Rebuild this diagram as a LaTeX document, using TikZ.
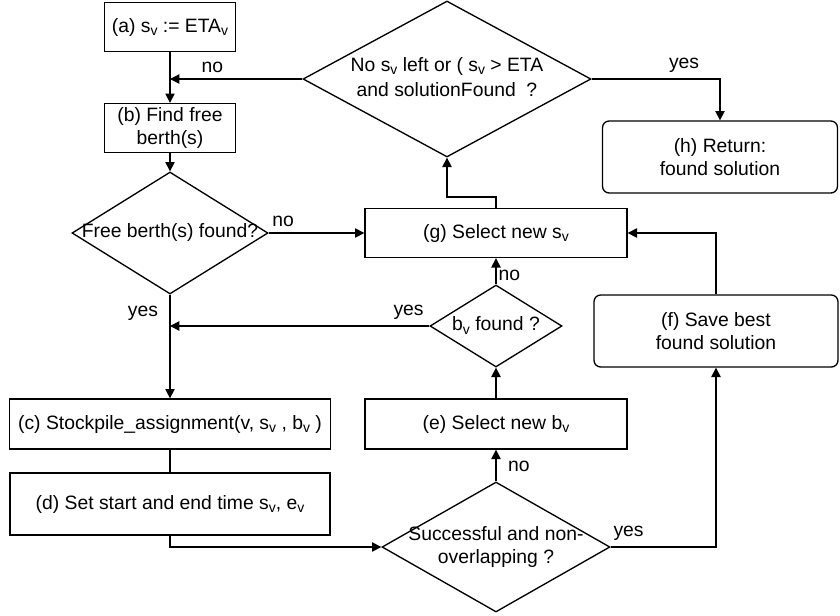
\documentclass[tikz,border=0pt]{standalone}
\usepackage{fontspec}
\setmainfont{Liberation Sans}
\usetikzlibrary{arrows.meta,shapes.geometric}
\newcommand{\dtext}[1]{\makebox[0pt]{\begin{tabular}{@{}c@{}}#1\end{tabular}}}
\newcommand{\vsub}{\raisebox{-2.5pt}{\fontsize{10.5}{10.5}\selectfont v}}

\begin{document}
\begin{tikzpicture}[x=0.75pt, y=-0.75pt, line width=1pt,
	every node/.style={font=\fontsize{14.5}{17.5}\selectfont},
	>={Triangle[length=7pt, width=7pt]},
	box/.style={draw, minimum width=196.5pt, minimum height=36.75pt, align=center, inner sep=2pt},
	endbox/.style={box, rounded corners=5pt},
	dec/.style={draw, diamond, inner sep=0pt},
	lbl/.style={inner sep=1.5pt}]
	\useasboundingbox (0,0) rectangle (840,615);
	% left column
	\node[box, minimum width=98.25pt] (a) at (170,27) {(a) s\vsub{} := ETA\vsub};
	\node[box, minimum width=98.25pt] (b) at (170,128) {(b) Find free\\berth(s)};
	\node[dec, minimum width=147pt, minimum height=91.5pt] (q1) at (170,233) {\dtext{Free berth(s) found?}};
	\node[box, minimum width=240.75pt, minimum height=37.5pt] (c) at (170,424) {(c) Stockpile\_assignment(v, s\vsub{} , b\vsub{} )};
	\node[box, minimum width=240pt, minimum height=46.5pt] (d) at (170,504) {(d) Set start and end time s\vsub, e\vsub};
	% middle column
	\node[dec, minimum width=216pt, minimum height=117pt] (q0) at (447,79) {\dtext{No s\vsub{} left or ( s\vsub{} > ETA\\[1.5pt] and solutionFound\ \ ?}};
	\node[box] (g) at (496,233) {(g) Select new s\vsub};
	\node[dec, minimum width=99pt, minimum height=61.5pt] (q2) at (496,326) {\dtext{b\vsub{} found ?}};
	\node[box, minimum height=37.5pt] (e) at (496,424) {(e) Select new b\vsub};
	\node[dec, minimum width=171pt, minimum height=97.5pt] (q3) at (496,547) {\dtext{Successful and non-\\overlapping ?}};
	% right column
	\node[endbox, minimum width=176.25pt, minimum height=54pt] (h) at (720,157) {(h) Return:\\found solution};
	\node[endbox, minimum width=183pt, minimum height=54pt] (f) at (716,331) {(f) Save best\\found solution};

	\draw[->] (a) -- (b);
	\draw[->] (b) -- (q1);
	\draw[->] (q1.east) -- (g.west) node[lbl, above=3pt, pos=0.15] {no};
	\draw[->] (q1.south) -- (c.north) node[lbl, left=7pt, pos=0.18] {yes};
	\draw (c.south) -- (d.north);
	\draw[->] (d.south) |- (q3.west);
	\draw[->] (q3.north) -- (e.south) node[lbl, right=7pt, pos=0.48] {no};
	\draw[->] (q3.east) -| (f.south) node[lbl, above=3pt, pos=0.085] {yes};
	\draw[->] (e.north) -- (q2.south);
	\draw[->] (q2.north) -- (g.south) node[lbl, right, pos=0.33] {no};
	\draw[->] (q2.west) -- (q2.west -| q1.south) node[lbl, above=3pt, pos=0.08] {yes};
	\draw[->] (f.north) |- (g.east);
	\draw[->] (g.north) -- ++(0,-11) -| (q0.south);
	\draw[->] (q0.west) -- (q0.west -| a.south) node[lbl, above=3pt, pos=0.68] {no};
	\draw[->] (q0.east) -| (h.north) node[lbl, above=3pt, pos=0.36] {yes};
\end{tikzpicture}
\end{document}
